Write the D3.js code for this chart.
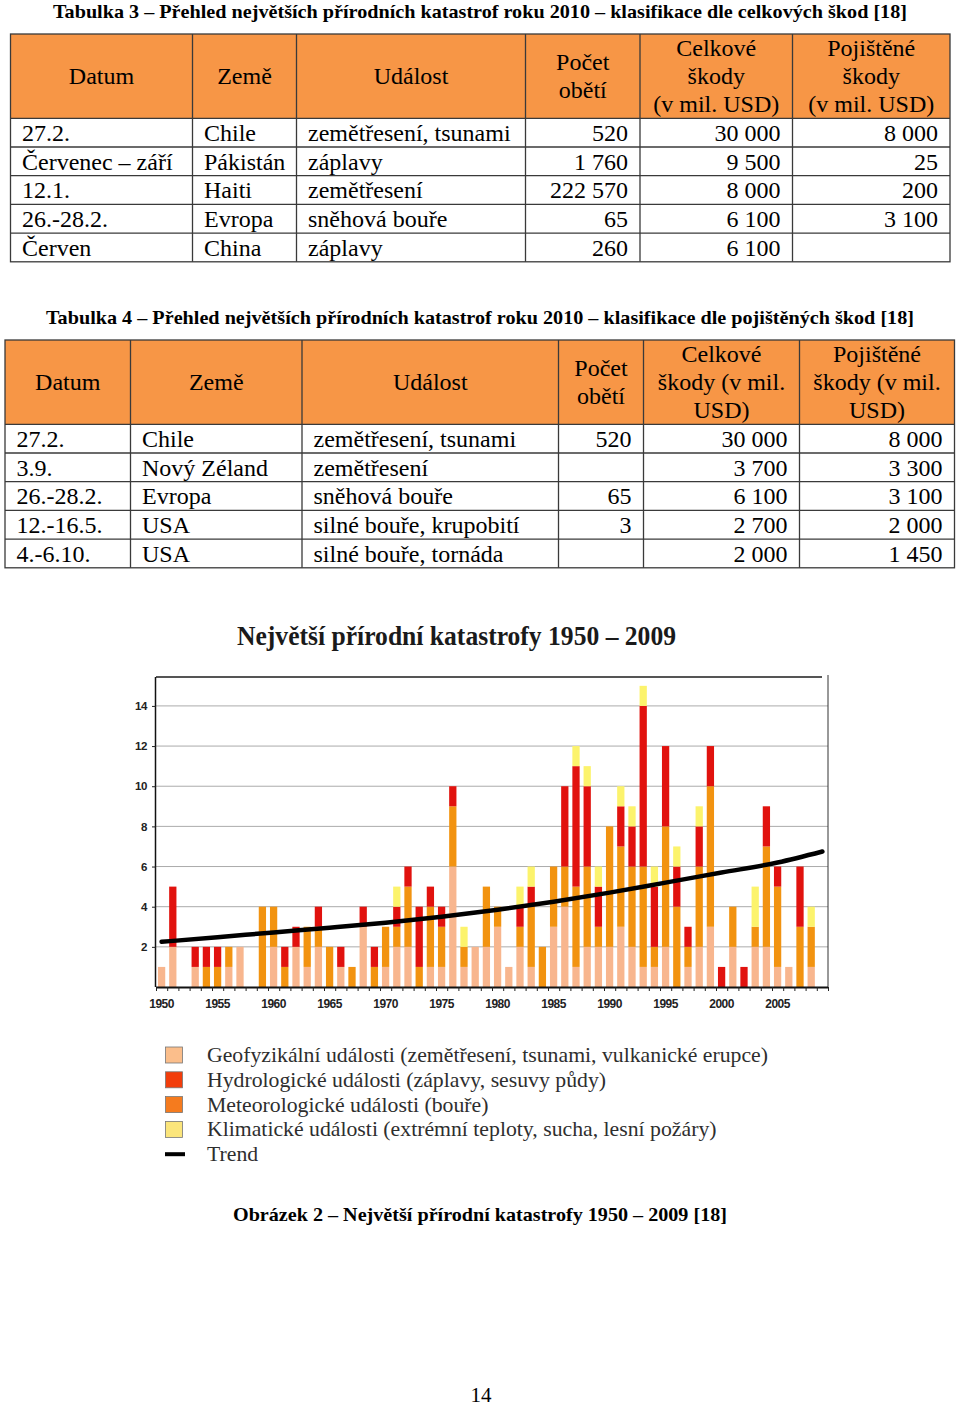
<!DOCTYPE html>
<html><head><meta charset="utf-8">
<script src="https://cdn.jsdelivr.net/npm/d3@7"></script>
<style>html,body{margin:0;padding:0;background:#fff}</style>
</head><body>
<script>
// ---------------- DATA ----------------
const table3Title = "Tabulka 3 – Přehled největších přírodních katastrof roku 2010 – klasifikace dle celkových škod [18]";
const table3Header = [["Datum"],["Země"],["Událost"],["Počet","obětí"],["Celkové","škody","(v mil. USD)"],["Pojištěné","škody","(v mil. USD)"]];
const table3Dates = ["27.2.","Červenec – září","12.1.","26.-28.2.","Červen"];
const table3Countries = ["Chile","Pákistán","Haiti","Evropa","China"];
const table3Events = ["zemětřesení, tsunami","záplavy","zemětřesení","sněhová bouře","záplavy"];
const table3Deaths = ["520","1 760","222 570","65","260"];
const table3Total = ["30 000","9 500","8 000","6 100","6 100"];
const table3Insured = ["8 000","25","200","3 100",""];

const table4Title = "Tabulka 4 – Přehled největších přírodních katastrof roku 2010 – klasifikace dle pojištěných škod [18]";
const table4Header = [["Datum"],["Země"],["Událost"],["Počet","obětí"],["Celkové","škody (v mil.","USD)"],["Pojištěné","škody (v mil.","USD)"]];
const table4Dates = ["27.2.","3.9.","26.-28.2.","12.-16.5.","4.-6.10."];
const table4Countries = ["Chile","Nový Zéland","Evropa","USA","USA"];
const table4Events = ["zemětřesení, tsunami","zemětřesení","sněhová bouře","silné bouře, krupobití","silné bouře, tornáda"];
const table4Deaths = ["520","","65","3",""];
const table4Total = ["30 000","3 700","6 100","2 700","2 000"];
const table4Insured = ["8 000","3 300","3 100","2 000","1 450"];

const chartTitle = "Největší přírodní katastrofy 1950 – 2009";
const years = [1950,1951,1952,1953,1954,1955,1956,1957,1958,1959,
               1960,1961,1962,1963,1964,1965,1966,1967,1968,1969,
               1970,1971,1972,1973,1974,1975,1976,1977,1978,1979,
               1980,1981,1982,1983,1984,1985,1986,1987,1988,1989,
               1990,1991,1992,1993,1994,1995,1996,1997,1998,1999,
               2000,2001,2002,2003,2004,2005,2006,2007,2008,2009];
// Geofyzikální
const geoEvents   = [1,2,0,1,0,0,1,2,0,0, 2,0,2,1,2,0,1,0,3,0, 1,2,2,0,1,1,6,1,2,2,
                     3,1,2,1,0,3,4,1,2,2, 2,3,2,1,1,2,0,1,2,3, 0,2,0,2,2,1,1,0,1,0];
// Meteorologické
const meteoEvents = [0,0,0,0,1,1,1,0,0,4, 2,1,0,2,1,2,0,1,0,1, 2,1,3,1,3,2,3,1,0,3,
                     1,0,1,3,2,3,2,4,4,1, 6,4,4,5,1,6,4,1,4,7, 0,2,0,1,5,4,0,3,2,0];
// Hydrologické
const hydroEvents = [0,3,0,1,1,1,0,0,0,0, 0,1,1,0,1,0,1,0,1,1, 0,1,1,3,1,1,1,0,0,0,
                     0,0,1,1,0,0,4,6,4,2, 0,2,2,8,3,4,2,1,2,2, 1,0,1,0,2,1,0,3,0,0];
// Klimatické
const climEvents  = [0,0,0,0,0,0,0,0,0,0, 0,0,0,0,0,0,0,0,0,0, 0,1,0,0,0,0,0,1,0,0,
                     0,0,1,1,0,0,0,1,1,1, 0,1,1,1,1,0,1,0,1,0, 0,0,0,2,0,0,0,0,1,0];
const trendYears  = [1950,1955,1960,1965,1970,1975,1980,1985,1990,1995,2000,2005,2009];
const trendValues = [2.25,2.48,2.72,2.95,3.2,3.5,3.85,4.25,4.7,5.2,5.7,6.2,6.75];
const yTicks = [2,4,6,8,10,12,14];
const xTickLabels = [1950,1955,1960,1965,1970,1975,1980,1985,1990,1995,2000,2005];
const legendLabels = [
  "Geofyzikální události (zemětřesení, tsunami, vulkanické erupce)",
  "Hydrologické události (záplavy, sesuvy půdy)",
  "Meteorologické události (bouře)",
  "Klimatické události (extrémní teploty, sucha, lesní požáry)",
  "Trend"];
const figureCaption = "Obrázek 2 – Největší přírodní katastrofy 1950 – 2009 [18]";
const pageNumber = "14";

// ---------------- DRAW ----------------
const W = 960, H = 1408;
const svg = d3.select("body").append("svg").attr("width", W).attr("height", H)
  .style("display","block").style("background","#fff");
const serif = "'Liberation Serif','Times New Roman',serif";
const sans = "'Liberation Sans',Arial,sans-serif";

function title(text, y, len, size) {
  svg.append("text").attr("x", 480).attr("y", y).attr("text-anchor","middle")
    .attr("font-family", serif).attr("font-weight","bold").attr("font-size", size)
    .attr("textLength", len).attr("lengthAdjust","spacingAndGlyphs")
    .attr("fill","#000").text(text);
}

function drawTable(cfg) {
  const g = svg.append("g");
  const cols = cfg.cols;
  const left = cols[0], right = cols[cols.length-1];
  const rowsN = cfg.columns[0].length;
  g.append("rect").attr("x", left).attr("y", cfg.top).attr("width", right-left)
    .attr("height", cfg.headerBottom - cfg.top).attr("fill", "#f79646");
  const rowTops = d3.range(rowsN+1).map(i => cfg.headerBottom + i*cfg.rowH);
  const hc = (cfg.top + cfg.headerBottom)/2;
  cfg.header.forEach((lines, ci) => {
    const cx = (cols[ci]+cols[ci+1])/2;
    lines.forEach((ln, li) => {
      const cy = hc + (li - (lines.length-1)/2)*cfg.lineH;
      g.append("text").attr("x", cx).attr("y", cy + 8).attr("text-anchor","middle")
        .attr("font-family", serif).attr("font-size", 24).attr("fill","#000").text(ln);
    });
  });
  cfg.columns.forEach((colData, ci) => {
    const alignRight = cfg.align[ci] === "r";
    colData.forEach((val, ri) => {
      g.append("text")
        .attr("x", alignRight ? cols[ci+1]-12 : cols[ci]+11.5)
        .attr("y", rowTops[ri] + 22.5)
        .attr("text-anchor", alignRight ? "end" : "start")
        .attr("font-family", serif).attr("font-size", 24).attr("fill","#000").text(val);
    });
  });
  const bottom = rowTops[rowsN];
  rowTops.slice(0, rowsN).forEach(y => {
    g.append("line").attr("x1", left).attr("x2", right).attr("y1", y).attr("y2", y)
      .attr("stroke","#3a3a3a").attr("stroke-width",1.3);
  });
  cols.slice(1,-1).forEach(x => {
    g.append("line").attr("x1", x).attr("x2", x).attr("y1", cfg.top).attr("y2", bottom)
      .attr("stroke","#3a3a3a").attr("stroke-width",1.3);
  });
  g.append("rect").attr("x", left).attr("y", cfg.top).attr("width", right-left)
    .attr("height", bottom - cfg.top).attr("fill","none")
    .attr("stroke","#3a3a3a").attr("stroke-width",1.3);
}

title(table3Title, 18, 854, 19);
drawTable({
  cols: [10.5, 192.5, 296.5, 525.5, 640, 792.5, 950],
  top: 34, headerBottom: 118.3, rowH: 28.7, lineH: 28,
  header: table3Header,
  columns: [table3Dates, table3Countries, table3Events, table3Deaths, table3Total, table3Insured],
  align: ["l","l","l","r","r","r"]
});

title(table4Title, 324, 868, 19);
drawTable({
  cols: [5, 130.5, 302, 558.5, 643.5, 799.5, 954.5],
  top: 340, headerBottom: 424.3, rowH: 28.7, lineH: 28,
  header: table4Header,
  columns: [table4Dates, table4Countries, table4Events, table4Deaths, table4Total, table4Insured],
  align: ["l","l","l","r","r","r"]
});

// ---------------- CHART ----------------
const plotL = 156, plotR = 828, plotT = 677, plotB = 987;
const x = d3.scaleBand().domain(years).range([plotL, plotR]).paddingInner(0.35).paddingOuter(0.175);
const xLin = d3.scaleLinear().domain([years[0]-0.5, years[years.length-1]+0.5]).range([plotL, plotR]);
const y = d3.scaleLinear().domain([0, 15.44]).range([plotB, plotT]);

svg.append("text").attr("x", 456.5).attr("y", 645).attr("text-anchor","middle")
  .attr("font-family", serif).attr("font-weight","bold").attr("font-size", 27)
  .attr("textLength", 439).attr("lengthAdjust","spacingAndGlyphs")
  .attr("fill","#1a1a1a").text(chartTitle);

const chart = svg.append("g");
chart.selectAll("line.grid").data(yTicks).enter().append("line")
  .attr("x1", plotL).attr("x2", plotR).attr("y1", d => y(d)).attr("y2", d => y(d))
  .attr("stroke","#ababab").attr("stroke-width",1);
chart.append("line").attr("x1", plotL).attr("x2", 822).attr("y1", plotT).attr("y2", plotT)
  .attr("stroke","#555").attr("stroke-width",1.8);
chart.append("line").attr("x1", plotR).attr("x2", plotR).attr("y1", plotT - 2).attr("y2", plotB)
  .attr("stroke","#333").attr("stroke-width",1);

const rows = years.map((yr, i) => ({year: yr, geo: geoEvents[i], meteo: meteoEvents[i], hydro: hydroEvents[i], clim: climEvents[i]}));
const keys = ["geo","meteo","hydro","clim"];
const colors = {geo: "#f8b68e", meteo: "#f29310", hydro: "#e1120e", clim: "#fcf36c"};
const stacked = d3.stack().keys(keys)(rows);
chart.selectAll("g.layer").data(stacked).enter().append("g")
  .attr("fill", d => colors[d.key])
  .selectAll("rect").data(d => d).enter().append("rect")
  .attr("x", d => x(d.data.year)).attr("width", x.bandwidth())
  .attr("y", d => y(d[1])).attr("height", d => y(d[0]) - y(d[1]));

const yAxis = d3.axisLeft(y).tickValues(yTicks).tickSize(4).tickPadding(5).tickFormat(d3.format("d"));
const gy = chart.append("g").attr("transform", `translate(${plotL},0)`).call(yAxis);
gy.select(".domain").attr("stroke","#111").attr("stroke-width",1.5).attr("d", `M-0.5,${plotT}V${plotB}`);
gy.selectAll(".tick line").attr("stroke","#222");
gy.selectAll(".tick text").attr("font-family", sans).attr("font-weight","bold")
  .attr("font-size", 11.5).attr("fill","#222").attr("letter-spacing","-0.4");

const boundaries = years.map(yr => yr - 0.5).concat([years[years.length-1] + 0.5]);
const xAxis = d3.axisBottom(xLin).tickValues(boundaries).tickSize(4).tickFormat("");
const gx = chart.append("g").attr("transform", `translate(0,${plotB})`).call(xAxis);
gx.select(".domain").attr("stroke","#111").attr("stroke-width",1.8).attr("d", `M${plotL},0.5H${plotR}`);
gx.selectAll(".tick line").attr("stroke","#222");
chart.selectAll("text.xl").data(xTickLabels).enter().append("text")
  .attr("x", d => xLin(d)).attr("y", 1008).attr("text-anchor","middle")
  .attr("font-family", sans).attr("font-weight","bold").attr("font-size", 12)
  .attr("letter-spacing","-0.5").attr("fill","#222").text(d => d);

const trendPts = trendYears.map((yr, i) => ({year: yr, v: trendValues[i]}));
chart.append("path").datum(trendPts)
  .attr("d", d3.line().x(d => xLin(d.year)).y(d => y(d.v)).curve(d3.curveMonotoneX))
  .attr("fill","none").attr("stroke","#000").attr("stroke-width",4.5).attr("stroke-linecap","round");

const legendColors = ["#fbbe8b","#f23d0b","#f57b1e","#fbe57b"];
const lg = svg.append("g");
const lTexts = [];
legendLabels.forEach((lab, i) => {
  const cy = 1055 + i*24.8;
  if (i < 4) {
    lg.append("rect").attr("x", 165.5).attr("y", cy - 8).attr("width", 17).attr("height", 16)
      .attr("fill", legendColors[i]).attr("stroke","#777").attr("stroke-width",0.8);
  } else {
    lg.append("rect").attr("x", 165).attr("y", cy - 2).attr("width", 20).attr("height", 4).attr("fill","#000");
  }
  lTexts.push(lg.append("text").attr("x", 207).attr("y", cy + 7)
    .attr("font-family", serif).attr("font-size", 22).attr("fill","#2e2e2e").text(lab));
});
const k = 561 / lTexts[0].node().getComputedTextLength();
lTexts.forEach(t => {
  const w = t.node().getComputedTextLength();
  t.attr("textLength", w*k).attr("lengthAdjust","spacingAndGlyphs");
});

title(figureCaption, 1221, 494, 19);
svg.append("text").attr("x", 481).attr("y", 1402).attr("text-anchor","middle")
  .attr("font-family", serif).attr("font-size", 21).attr("fill","#000").text(pageNumber);
</script>
</body></html>
